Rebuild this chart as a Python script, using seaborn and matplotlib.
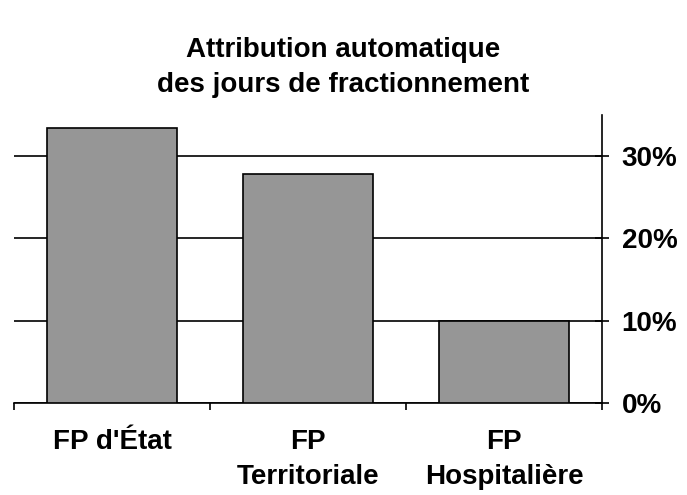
import matplotlib as mpl
mpl.use('Agg')
import matplotlib.pyplot as plt
from matplotlib import ticker
import pandas as pd
import seaborn as sns

# data (percent)
categories = ["FP d'État", "FP\nTerritoriale", "FP\nHospitalière"]
values = [33.4, 27.8, 10.0]
y_ticks = [0, 10, 20, 30]

title = "Attribution automatique\ndes jours de fractionnement"

sns.set_style('white')
plt.rcParams['font.family'] = ['Liberation Sans', 'DejaVu Sans']
plt.rcParams['font.weight'] = 'bold'
plt.rcParams['text.color'] = 'black'
plt.rcParams['xtick.color'] = 'black'
plt.rcParams['ytick.color'] = 'black'
plt.rcParams['xtick.labelcolor'] = 'black'
plt.rcParams['ytick.labelcolor'] = 'black'

df = pd.DataFrame({'cat': categories, 'val': values})

fig = plt.figure(figsize=(6.87, 4.95), dpi=100)
ax = fig.add_axes([0.0204, 0.186, 0.856, 0.582])

sns.barplot(data=df, x='cat', y='val', color='#969696', saturation=1,
            edgecolor='black', linewidth=1.2, width=0.66, ax=ax, zorder=3)

ax.set_xlim(-0.5, len(categories) - 0.5)
ax.set_ylim(0, 35)

# gridlines behind bars
ax.set_axisbelow(True)
ax.yaxis.grid(True, color='black', linewidth=1.2)
ax.xaxis.grid(False)

# y axis on the right
ax.yaxis.tick_right()
ax.set_yticks(y_ticks)
ax.yaxis.set_major_formatter(ticker.FuncFormatter(lambda v, p: '{:.0f}%'.format(v)))
ax.tick_params(axis='y', direction='inout', length=10, width=1.2, color='black',
               labelcolor='black', labelsize=20, pad=9, right=True, left=False)

# x ticks between categories
ax.set_xticks(range(len(categories)))
ax.set_xticklabels(categories, linespacing=1.45)
ax.xaxis.set_minor_locator(ticker.FixedLocator([i - 0.5 for i in range(len(categories) + 1)]))
ax.tick_params(axis='x', which='major', length=0, labelsize=20, pad=19,
               labelcolor='black')
ax.tick_params(axis='x', which='minor', direction='out', length=5, width=1.2,
               color='black', bottom=True)

for s in ['left', 'top']:
    ax.spines[s].set_visible(False)
for s in ['right', 'bottom']:
    ax.spines[s].set_color('black')
    ax.spines[s].set_linewidth(1.2)

ax.set_xlabel('')
ax.set_ylabel('')

fig.text(0.5, 0.863, title, ha='center', va='center', fontsize=20,
         fontweight='bold', linespacing=1.45, color='black')

fig.savefig('out.png', dpi=100)
